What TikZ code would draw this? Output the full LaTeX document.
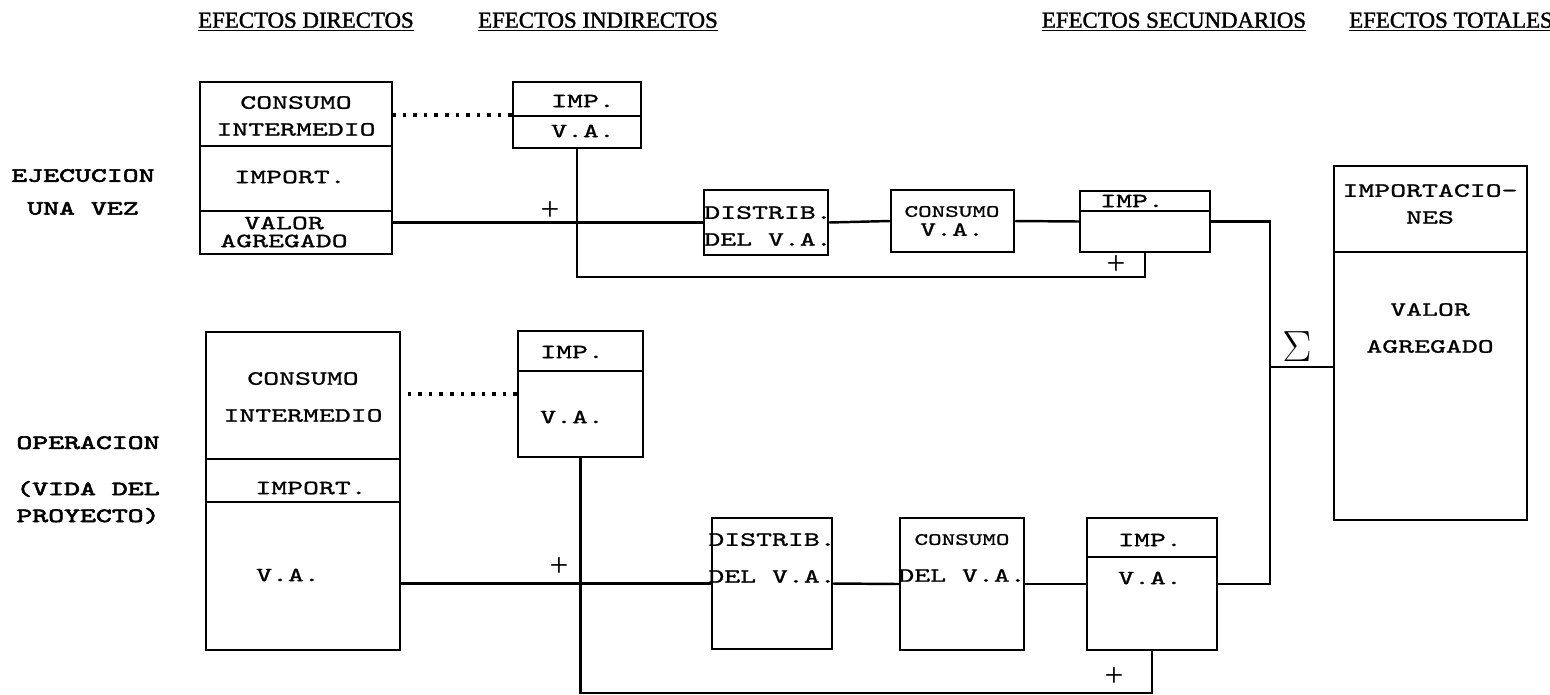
\documentclass[tikz,border=0pt]{standalone}
\usepackage{fontspec}
\setmainfont{Liberation Serif}
\newfontfamily\typew[FakeStretch=1.5, FakeBold=1.2]{lmmono10-regular.otf}
\newfontfamily\typewbf[FakeStretch=1.5, FakeBold=3]{lmmono10-regular.otf}
\newfontfamily\hdrfont[FakeBold=1.5]{Liberation Serif}
\usetikzlibrary{fit}

\begin{document}
\begin{tikzpicture}[
    x=0.02cm, y=-0.02cm,
    box/.style={draw=black, line width=1.4pt, inner sep=0pt},
    lbl/.style={font=\typew\fontsize{11.5}{15.3}\selectfont, align=center, inner sep=0pt},
    side/.style={lbl, font=\typewbf\fontsize{11.5}{15.3}\selectfont},
    hdr/.style={font=\hdrfont\fontsize{13}{13}\selectfont, inner sep=0pt},
    sgn/.style={font=\fontsize{19}{19}\selectfont, inner sep=0pt},
    wire/.style={line width=1.4pt},
    dots/.style={line width=2pt, dash pattern=on 2pt off 4pt},
]
\useasboundingbox (0,0) rectangle (1550,694);

% column headings
\node[hdr] (hdir) at (306,22) {\underline{EFECTOS DIRECTOS}};
\node[hdr] (hind) at (598,22) {\underline{EFECTOS INDIRECTOS}};
\node[hdr] (hsec) at (1174,22) {\underline{EFECTOS SECUNDARIOS}};
\node[hdr] (htot) at (1451,22) {\underline{EFECTOS TOTALES}};

% row labels
\node[side] (eje) at (83,192) {EJECUCION\\[3.4pt]UNA VEZ};
\node[side] (ope) at (88,480) {OPERACION\\[11pt](VIDA DEL\\PROYECTO)};

% ejecucion: direct effects
\node[box, fit={(200,82) (392,254)}] (ci1) {};
\draw[wire] (ci1.west |- 0,146) -- (ci1.east |- 0,146);
\draw[wire] (ci1.west |- 0,211) -- (ci1.east |- 0,211);
\node[lbl] (ci1a) at (296,116) {CONSUMO\\INTERMEDIO};
\node[lbl] (ci1b) at (290,177) {IMPORT.};
\node[lbl] (ci1c) at (284,232) {VALOR\\[-5.1pt]AGREGADO};

% ejecucion: indirect effects
\node[box, fit={(513,82) (641,148)}] (imp1) {};
\draw[wire] (imp1.west |- 0,116) -- (imp1.east |- 0,116);
\node[lbl] (imp1a) at (583,101) {IMP.};
\node[lbl] (imp1b) at (583,131) {V.A.};

% ejecucion: secondary effects
\node[box, fit={(704,190) (828,255)}] (dist1) {};
\node[lbl] (dist1a) at (768,226) {DISTRIB.\\DEL V.A.};
\node[box, fit={(891,190) (1014,252)}] (cons1) {};
\node[lbl] (cons1a) at (952,221) {{\fontsize{9.8}{10}\selectfont CONSUMO}\\[-4.5pt]V.A.};
\node[box, fit={(1080,191) (1210,252)}] (imp2) {};
\draw[wire] (imp2.west |- 0,211) -- (imp2.east |- 0,211);
\node[lbl] (imp2a) at (1132,201) {IMP.};

\draw[dots] (imp1.west) -- (imp1.west -| ci1.east);
\draw[wire] (ci1.east |- dist1.west) -- (dist1.west);
\draw[wire] (dist1.east) -- (cons1.west);
\draw[wire] (cons1.east) -- (imp2.west);
\draw[wire] (imp1.south) -- ++(0,128) -| (imp2.south);
\node[sgn] (p1) at (550,211) {+};
\node[sgn] (p2) at (1116,265) {+};

% operacion: direct effects
\node[box, fit={(206,332) (400,650)}] (ci2) {};
\draw[wire] (ci2.west |- 0,459) -- (ci2.east |- 0,459);
\draw[wire] (ci2.west |- 0,502) -- (ci2.east |- 0,502);
\node[lbl] (ci2a) at (303,397) {CONSUMO\\[5.7pt]INTERMEDIO};
\node[lbl] (ci2b) at (311,488) {IMPORT.};
\node[lbl] (ci2c) at (288,575) {V.A.};

% operacion: indirect effects
\node[box, fit={(518,331) (643,457)}] (imp3) {};
\draw[wire] (imp3.west |- 0,371) -- (imp3.east |- 0,371);
\node[lbl] (imp3a) at (572,352) {IMP.};
\node[lbl] (imp3b) at (572,417) {V.A.};

% operacion: secondary effects
\node[box, fit={(712,518) (832,649)}] (dist2) {};
\node[lbl] (dist2a) at (772,558) {DISTRIB.\\[5.7pt]DEL V.A.};
\node[box, fit={(900,518) (1024,650)}] (cons2) {};
\node[lbl] (cons2a) at (962,558) {{\fontsize{9.8}{10}\selectfont CONSUMO}\\[5.7pt]DEL V.A.};
\node[box, fit={(1087,518) (1217,650)}] (imp4) {};
\draw[wire] (imp4.west |- 0,557) -- (imp4.east |- 0,557);
\node[lbl] (imp4a) at (1150,540) {IMP.};
\node[lbl] (imp4b) at (1150,578) {V.A.};

\draw[dots] (imp3.west) -- (imp3.west -| ci2.east);
\draw[wire] (ci2.east |- dist2.west) -- (dist2.west);
\draw[wire] (dist2.east) -- (cons2.west);
\draw[wire] (cons2.east) -- (imp4.west);
\draw[wire] (imp3.south) -- ++(0,235) -| (imp4.south);
\node[sgn] (p3) at (559,567) {+};
\node[sgn] (p4) at (1114,677) {+};

% total effects
\node[box, fit={(1334,166) (1527,520)}] (tot) {};
\draw[wire] (tot.west |- 0,252) -- (tot.east |- 0,252);
\node[lbl] (tota) at (1430,204) {IMPORTACIO-\\NES};
\node[lbl] (totb) at (1430,328) {VALOR\\[5.7pt]AGREGADO};

\coordinate (bus) at (1270,367);
\draw[wire] (imp2.east) -| (bus) |- (imp4.east);
\draw[wire] (bus) -- (tot.west |- bus);
\node[sgn, font=\fontsize{24}{24}\selectfont] (sum) at (1297,347) {$\Sigma$};

\end{tikzpicture}
\end{document}
